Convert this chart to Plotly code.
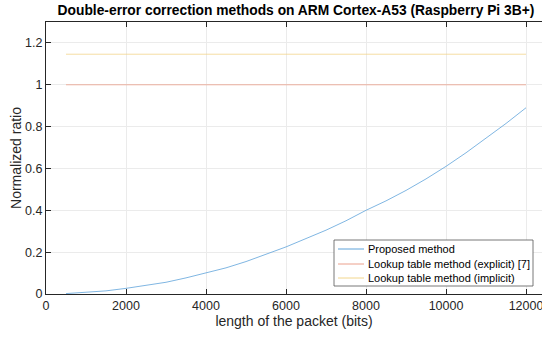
import plotly.graph_objects as go

packet_bits = [500, 1000, 1500, 2000, 2500, 3000, 3500, 4000, 4500, 5000, 5500, 6000,
               6500, 7000, 7500, 8000, 8500, 9000, 9500, 10000, 10500, 11000, 11500, 12000]
proposed = [0.002, 0.007, 0.015, 0.027, 0.040, 0.056, 0.077, 0.100, 0.125, 0.155, 0.190, 0.225,
            0.265, 0.305, 0.350, 0.400, 0.445, 0.495, 0.550, 0.610, 0.675, 0.745, 0.815, 0.890]
explicit_ratio = [1.0] * len(packet_bits)
implicit_ratio = [1.146] * len(packet_bits)

series_names = ["Proposed method", "Lookup table method (explicit) [7]", "Lookup table method (implicit)"]
series_colors = ["#5fa3da", "#eba08c", "#f2d68c"]
x_ticks = [0, 2000, 4000, 6000, 8000, 10000, 12000]
y_ticks = [0, 0.2, 0.4, 0.6, 0.8, 1.0, 1.2]
y_tick_text = ["0", "0.2", "0.4", "0.6", "0.8", "1", "1.2"]

FONT = "Liberation Sans, Arial, Helvetica, sans-serif"
AX = "#262626"

# plot area geometry (px)
L, T, W, H = 46, 22, 496, 272
def px_x(p):
    return (p - L) / W
def px_y(p):
    return (T + H - p) / H

fig = go.Figure()
for name, ys, col in zip(series_names, [proposed, explicit_ratio, implicit_ratio], series_colors):
    fig.add_trace(go.Scatter(x=packet_bits, y=ys, mode="lines", name=name, showlegend=False,
                             line=dict(color=col, width=0.8)))

# manual MATLAB-style legend box
shapes = [dict(type="rect", xref="paper", yref="paper",
               x0=px_x(334), x1=px_x(533), y0=px_y(286), y1=px_y(240),
               line=dict(color="#555555", width=0.8), fillcolor="white", layer="above")]
annotations = []
row_y = [249, 264, 278]
for name, col, ry in zip(series_names, series_colors, row_y):
    shapes.append(dict(type="line", xref="paper", yref="paper",
                       x0=px_x(338), x1=px_x(364), y0=px_y(ry), y1=px_y(ry),
                       line=dict(color=col, width=1), layer="above"))
    annotations.append(dict(xref="paper", yref="paper", x=px_x(366), y=px_y(ry),
                            xanchor="left", yanchor="middle", showarrow=False, text=name,
                            font=dict(size=11, color="black", family=FONT)))

fig.update_layout(
    width=542, height=338,
    margin=dict(l=L, r=0, t=T, b=338 - T - H, autoexpand=False),
    paper_bgcolor="white", plot_bgcolor="white",
    font=dict(family=FONT, color=AX, size=12.5),
    title=dict(text="<b>Double-error correction methods on ARM Cortex-A53 (Raspberry Pi 3B+)</b>",
               x=0.504, xanchor="center", xref="paper", y=0.97, yanchor="middle",
               font=dict(size=13.8, color="black", family=FONT)),
    showlegend=False,
    shapes=shapes,
    annotations=annotations,
)
fig.update_xaxes(range=[0, 12400], tickvals=x_ticks, ticktext=[str(v) for v in x_ticks],
                 tickmode="array", ticklabeloverflow="allow",
                 showgrid=True, gridcolor="#ebebeb", gridwidth=1,
                 showline=True, linecolor=AX, linewidth=1, mirror="ticks",
                 ticks="inside", ticklen=5, tickcolor=AX, zeroline=False,
                 title=dict(text="length of the packet (bits)", font=dict(size=14, color=AX), standoff=4))
fig.update_yaxes(range=[0, 1.3], tickvals=y_ticks, ticktext=y_tick_text,
                 showgrid=True, gridcolor="#ebebeb", gridwidth=1,
                 showline=True, linecolor=AX, linewidth=1, mirror=False,
                 ticks="inside", ticklen=5, tickcolor=AX, zeroline=False,
                 title=dict(text="Normalized ratio", font=dict(size=14, color=AX), standoff=0))

fig.write_html("out.html")
